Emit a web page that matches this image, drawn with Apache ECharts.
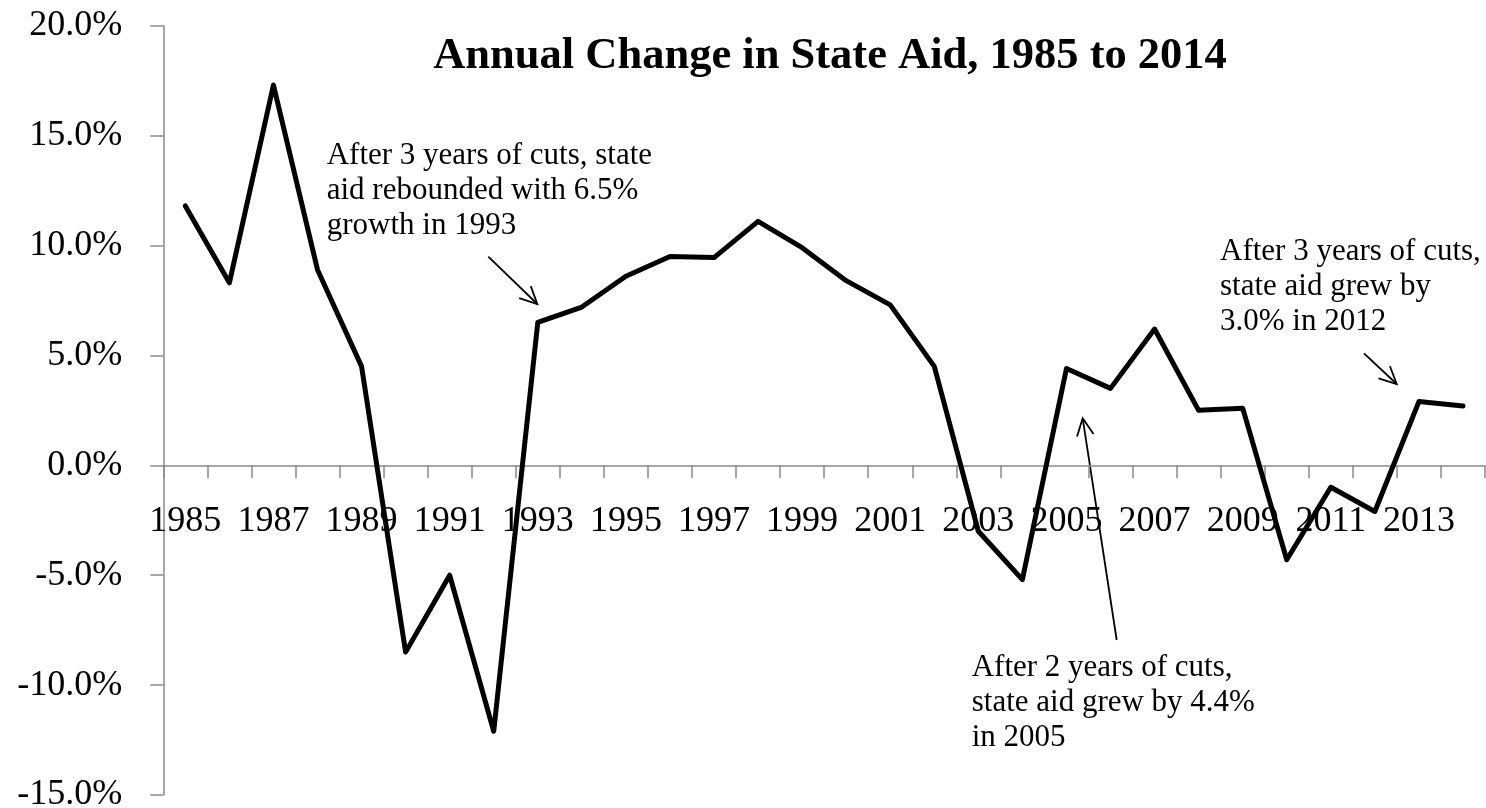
<!DOCTYPE html>
<html>
<head>
<meta charset="utf-8">
<script src="https://cdn.jsdelivr.net/npm/echarts@6/dist/echarts.min.js"></script>
<style>
html,body{margin:0;padding:0;background:#ffffff;}
#chart{width:1486px;height:808px;}
</style>
</head>
<body>
<div id="chart"></div>
<script>
// ---- data ----
const years = ['1985','1986','1987','1988','1989','1990','1991','1992','1993','1994',
               '1995','1996','1997','1998','1999','2000','2001','2002','2003','2004',
               '2005','2006','2007','2008','2009','2010','2011','2012','2013','2014'];
const stateAidChange = [11.8, 8.3, 17.3, 8.9, 4.5, -8.5, -5.0, -12.1, 6.5, 7.2,
                        8.6, 9.5, 9.45, 11.1, 9.9, 8.4, 7.3, 4.5, -3.0, -5.2,
                        4.4, 3.5, 6.2, 2.5, 2.6, -4.3, -1.0, -2.1, 2.9, 2.7];
const yMin = -15, yMax = 20, yStep = 5;
const titleText = 'Annual Change in State Aid, 1985 to 2014';
const noteTexts = [
  ['After 3 years of cuts, state', 'aid rebounded with 6.5%', 'growth in 1993'],
  ['After 3 years of cuts,', 'state aid grew by', '3.0% in 2012'],
  ['After 2 years of cuts,', 'state aid grew by 4.4%', 'in 2005']
];

// ---- layout ----
const FONT = '"Liberation Serif", "Times New Roman", serif';
const GRID = {left: 163.3, right: 1, top: 25.7, bottom: 13};
const CHART_H = 808;
const noteLayout = [ {x: 326.7, y: 138.5}, {x: 1220, y: 234.2}, {x: 971.7, y: 650.2} ];
const arrowLayout = [
  {from: [488.3, 256.7], to: [537.3, 304]},
  {from: [1364, 353.3], to: [1396.7, 384]},
  {from: [1116.7, 640], to: [1082.7, 418.3]}
];

function arrowElements(a) {
  const [x1, y1] = a.from, [x2, y2] = a.to;
  const ang = Math.atan2(y1 - y2, x1 - x2);
  const L = 19, h = 26 * Math.PI / 180;
  const w1 = [x2 + L * Math.cos(ang + h), y2 + L * Math.sin(ang + h)];
  const w2 = [x2 + L * Math.cos(ang - h), y2 + L * Math.sin(ang - h)];
  const st = {stroke: '#000', lineWidth: 1.8, fill: null};
  return [
    {type: 'line', shape: {x1, y1, x2, y2}, style: st, silent: true},
    {type: 'polyline', shape: {points: [w1, [x2, y2], w2]}, style: st, silent: true}
  ];
}

const graphics = [
  {type: 'text', x: 830, y: 33.6, silent: true,
   style: {text: titleText, fontSize: 44.5, fontWeight: 'bold', fontFamily: FONT, fill: '#000',
           align: 'center', textAlign: 'center', verticalAlign: 'top', textVerticalAlign: 'top'}}
];
noteTexts.forEach((lines, i) => {
  graphics.push({type: 'text', x: noteLayout[i].x, y: noteLayout[i].y, silent: true,
    style: {text: lines.join('\n'), fontSize: 31, lineHeight: 35, fontFamily: FONT, fill: '#000',
            align: 'left', textAlign: 'left', verticalAlign: 'top', textVerticalAlign: 'top'}});
});
arrowLayout.forEach(a => arrowElements(a).forEach(e => graphics.push(e)));

// place the category axis at value 0 (offset from the grid bottom)
const gridH = CHART_H - GRID.top - GRID.bottom;
const zeroOffset = -((0 - yMin) / (yMax - yMin)) * gridH;

const axisGrey = '#8a8a8a';
const chart = echarts.init(document.getElementById('chart'), null, {renderer: 'canvas'});
chart.setOption({
  animation: false,
  backgroundColor: '#ffffff',
  grid: {left: GRID.left, right: GRID.right, top: GRID.top, bottom: GRID.bottom,
         containLabel: false, outerBoundsMode: 'none'},
  xAxis: {
    type: 'category',
    data: years,
    boundaryGap: true,
    position: 'bottom',
    offset: zeroOffset,
    axisLine: {show: true, onZero: false, lineStyle: {color: axisGrey, width: 1.5}},
    axisTick: {show: true, interval: 0, alignWithLabel: false, length: 13, lineStyle: {color: axisGrey, width: 1.5}},
    axisLabel: {interval: 1, margin: 38, fontSize: 36, fontFamily: FONT, color: '#000', hideOverlap: false},
    splitLine: {show: false}
  },
  yAxis: {
    type: 'value',
    min: yMin, max: yMax, interval: yStep,
    axisLine: {show: true, lineStyle: {color: axisGrey, width: 1.5}},
    axisTick: {show: true, length: 13, lineStyle: {color: axisGrey, width: 1.5}},
    axisLabel: {margin: 41, fontSize: 36, fontFamily: FONT, color: '#000',
                formatter: v => v.toFixed(1) + '%'},
    splitLine: {show: false}
  },
  series: [{
    type: 'line',
    data: stateAidChange,
    showSymbol: false,
    symbol: 'none',
    lineStyle: {color: '#000', width: 5, join: 'round', cap: 'round'},
    z: 5
  }],
  graphic: graphics
});
</script>
</body>
</html>
